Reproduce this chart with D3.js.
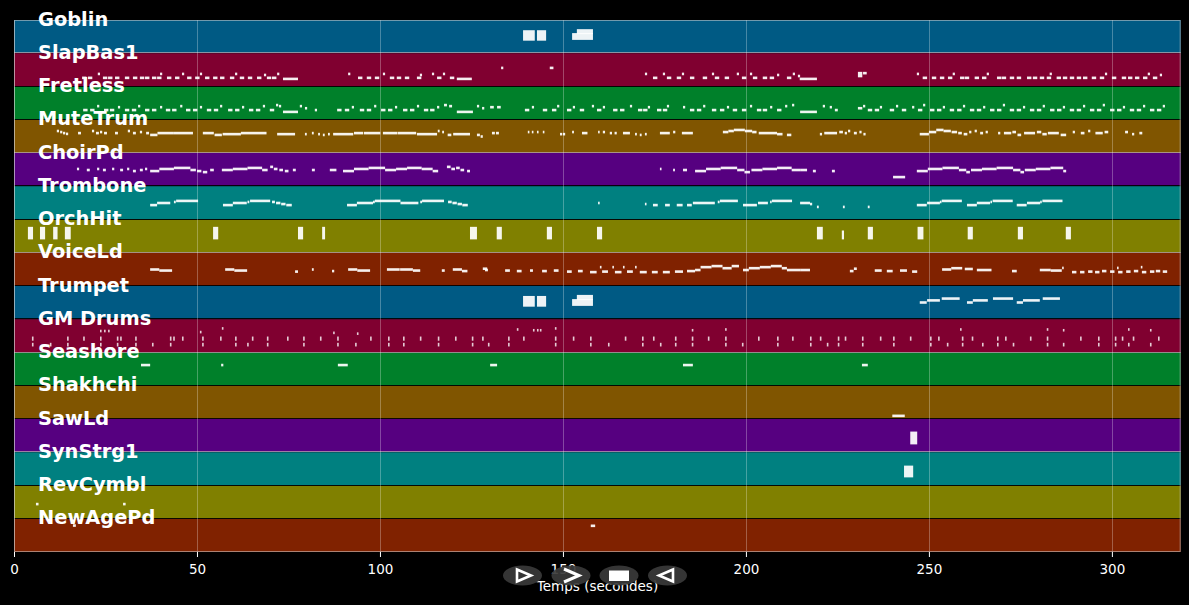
<!DOCTYPE html>
<html><head><meta charset="utf-8">
<script src="https://cdn.jsdelivr.net/npm/d3@7"></script>
<style>body{margin:0;background:#000}svg{display:block}</style>
</head><body><svg id="c" width="1189" height="605"></svg>
<script>
// ---------- data ----------
const tracks = ["Goblin","SlapBas1","Fretless","MuteTrum","ChoirPd","Trombone","OrchHit","VoiceLd",
  "Trumpet","GM Drums","Seashore","Shakhchi","SawLd","SynStrg1","RevCymbl","NewAgePd"];
const bandColors = ["#005a84","#800030","#00802a","#805500","#560080","#008080","#808000","#802200"];
const xTicks = [0,50,100,150,200,250,300];
const xMax = 318.8;
const xTitle = "Temps (secondes)";
// note: [start (s), duration (s), pitch] or [start, duration, lowPitch, highPitch]
const goblin = [[139.1,3.2,53,83],[142.9,2.5,53,83],[153.8,4.4,78,87],[152.5,5.7,56,72]];
const slapBas1 = [[18.6,1.2,33],[20.2,1.2,33],[22.9,0.6,48],[24.3,1.2,33],[25.7,1.2,33],[27.6,1.2,33],[30.3,1.2,33],[32.5,1.2,33],[34.4,1.2,33],[35.8,1.2,33],[37.7,1.2,33],[39.1,1.2,33],[39.9,0.6,48],[41.8,1.2,33],[44.0,1.2,33],[45.9,0.6,48],[47.3,1.2,33],[49.5,1.2,33],[50.8,0.6,48],[52.2,1.2,33],[54.4,1.2,33],[56.3,1.2,33],[59.0,1.2,33],[60.4,0.6,48],[61.7,1.2,33],[63.9,1.2,33],[66.4,1.2,33],[68.3,0.6,44],[69.1,1.2,33],[70.5,1.2,33],[71.9,0.6,48],[73.5,4.1,29],
  [91.3,0.6,48],[94.0,1.2,33],[96.4,1.2,33],[98.6,1.2,33],[100.8,0.6,48],[102.7,1.2,33],[104.6,1.2,33],[106.8,1.2,33],[110.1,1.2,33],[110.9,0.6,44],[114.2,0.6,48],[115.6,1.2,33],[117.2,0.6,48],[119.1,1.2,33],[121.0,4.1,29],
  [133.1,0.6,71],[146.4,1.0,71],
  [172.4,0.6,48],[174.6,1.2,33],[177.3,0.6,48],[178.4,1.2,33],[181.1,1.2,33],[182.5,0.6,48],[184.7,1.2,33],[188.2,1.2,33],[190.7,0.6,48],[191.5,1.2,33],[194.2,1.2,33],[197.5,0.6,48],[198.9,1.2,33],[201.1,0.6,48],[201.9,1.2,33],[204.6,1.2,33],[206.5,1.2,33],[208.5,0.6,44],[211.2,1.2,33],[212.8,0.6,48],[214.2,0.6,40],[214.7,4.7,29],
  [230.6,1.2,40,51],[232.0,1.0,51],
  [246.7,0.6,48],[248.3,1.2,33],[250.8,1.2,33],[253.0,1.2,33],[255.2,1.2,33],[256.5,0.6,48],[258.5,1.2,33],[259.8,1.2,33],[262.5,1.2,33],[264.5,1.2,33],[265.8,0.6,48],[268.6,1.2,33],[269.9,1.2,33],[272.1,1.2,33],[274.0,1.2,33],[276.8,1.2,33],[278.4,1.2,33],[280.3,1.2,33],[282.2,1.2,33],[283.0,0.6,48],[284.9,1.2,33],[286.6,1.2,33],[288.5,1.2,33],[290.4,1.2,33],[292.1,1.2,33],[294.5,1.2,33],[296.7,1.2,33],[298.1,0.6,48],[300.0,1.2,33],[302.7,1.2,33],[304.4,1.2,33],[306.3,1.2,33],[308.5,1.2,33],[309.8,0.6,48],[311.2,1.2,33],[313.1,0.6,44]];
const fretless = [[18.9,1.2,37],[20.8,1.2,37],[22.7,0.6,52],[24.6,1.2,37],[26.2,1.2,37],[28.4,0.6,48],[30.3,1.2,37],[32.2,1.2,37],[33.9,0.6,52],[35.8,1.2,37],[37.7,1.2,37],[39.9,0.6,48],[41.5,1.2,37],[43.2,1.2,37],[45.4,0.6,52],[47.0,1.2,37],[48.9,1.2,37],[50.8,0.6,48],[52.7,1.2,37],[54.6,1.2,37],[56.3,0.6,52],[58.5,1.2,37],[60.4,1.2,37],[62.3,0.6,48],[64.2,1.2,37],[66.1,1.2,37],[68.0,0.6,52],[69.9,1.2,37],[71.6,0.6,56],[72.4,0.6,52],[73.5,4.1,30],[78.1,0.6,52],[79.5,0.6,44],[82.2,0.6,37],
  [88.3,1.2,37],[90.4,1.2,37],[92.3,0.6,48],[94.5,1.2,37],[96.4,1.2,37],[98.4,0.6,52],[100.3,1.2,37],[102.2,1.2,37],[104.1,0.6,48],[106.3,1.2,37],[108.2,1.2,37],[110.1,0.6,52],[112.0,1.2,37],[113.7,1.2,37],[115.6,0.6,48],[117.5,0.8,56],[118.9,0.8,52],[121.0,4.4,30],[126.5,0.6,52],[127.9,0.6,44],[130.1,1.0,48],[132.0,1.0,48],
  [139.6,1.2,37],[141.5,0.6,48],[144.5,1.2,37],[147.0,1.2,37],[148.4,0.6,52],[151.1,1.2,37],[152.7,0.6,48],[154.6,1.2,37],[157.9,0.6,52],[159.3,1.2,37],[160.9,0.6,48],[163.7,1.2,37],[165.6,1.2,37],[168.3,0.6,52],[170.5,1.2,37],[171.9,1.2,37],[173.2,0.6,48],[175.7,1.2,37],[177.3,1.2,37],[178.4,0.6,52],[182.8,0.6,48],[184.7,1.2,37],[186.6,1.2,37],[188.3,0.6,52],[190.7,1.2,37],[192.9,1.2,37],[194.8,0.6,48],[196.4,1.2,37],[198.9,1.2,37],[201.1,0.6,52],[203.0,1.2,37],[204.6,1.2,37],[206.6,0.6,48],[208.5,1.2,37],[210.7,0.6,52],[212.6,0.6,56],
  [214.8,4.6,30],[221.0,0.6,52],[222.9,0.6,48],[224.3,0.8,37],[230.6,1.2,44],[232.0,0.6,52],[233.3,1.2,37],[235.2,1.2,37],[236.6,0.6,48],[239.3,1.2,37],[241.0,0.6,52],[242.6,1.2,37],
  [245.4,0.6,48],[247.0,1.2,37],[248.4,0.6,56],[250.3,1.2,37],[252.2,1.2,37],[253.8,0.6,48],[255.7,1.2,37],[257.7,1.2,37],[259.3,0.6,52],[261.2,1.2,37],[263.1,1.2,37],[264.8,0.6,48],[266.7,1.2,37],[268.6,1.2,37],[270.2,0.6,56],[272.1,1.2,37],[274.0,1.2,37],[275.7,0.6,48],[277.6,1.2,37],[279.5,1.2,37],[281.1,0.6,52],[283.1,1.2,37],[285.0,1.2,37],[286.6,0.6,48],[288.5,1.2,37],[290.4,1.2,37],[292.1,0.6,52],[294.0,1.2,37],[295.9,1.2,37],[297.5,0.6,56],[299.5,1.2,37],[301.4,1.2,37],[303.0,0.6,48],[304.9,1.2,37],[306.8,1.2,37],[308.5,0.6,52],[310.4,1.2,37],[312.3,1.2,37],[313.9,0.6,52]];
const muteTrum = [[11.7,0.6,84],[12.6,0.6,80],[13.4,0.6,76],[14.2,0.6,73],[17.5,0.8,76],[21.3,0.6,84],[22.4,0.8,76],[23.5,0.6,80],[24.6,0.8,76],[27.6,0.8,76],[31.1,0.6,84],[32.5,0.8,76],[34.4,0.6,80],[36.1,0.8,76],
  [37.2,2.0,69],[39.2,4.5,76],[43.7,5.2,76],[51.6,3.0,76],[54.8,2.0,69],[57.0,5.0,72],[62.0,7.0,76],[71.9,4.9,72],
  [79.5,0.5,72],[81.4,0.5,76],[83.1,0.5,72],[84.4,0.5,69],[85.8,0.5,72],[87.2,5.5,72],[92.9,2.5,76],[95.6,4.5,76],[100.8,4.0,76],[104.9,5.0,76],[110.1,5.5,72],[115.8,0.5,84],[117.0,0.5,80],[118.5,1.0,69],[120.0,4.6,72],[126.5,0.8,69],[127.5,0.6,63],[130.6,0.8,76],[131.7,0.8,76],
  [140.4,0.4,80],[141.5,0.4,80],[142.9,0.4,80],[144.5,0.4,80],[149.2,0.6,72],[150.0,0.6,72],[152.5,0.5,80],[155.2,1.5,76],[159.6,0.4,80],[160.9,0.6,80],[162.8,0.6,76],[164.1,0.6,76],[166.4,1.9,76],[169.7,0.5,72],[171.0,0.5,69],[172.4,0.5,72],[176.5,2.7,76],[180.1,0.6,80],[182.5,3.0,76],
  [193.7,1.5,80],[195.2,1.5,84],[196.7,3.0,88],[199.7,2.0,84],[201.7,1.2,80],[203.5,5.0,76],[208.5,1.5,72],[211.2,1.2,69],
  [220.2,0.6,72],[221.4,3.5,76],[225.5,1.0,80],[227.0,0.6,76],[227.9,0.6,84],[229.5,0.8,76],[231.0,0.6,80],[232.1,0.6,72],
  [247.5,2.5,72],[250.0,2.0,80],[252.0,2.0,88],[254.0,2.0,84],[256.2,1.5,80],[258.0,1.0,76],[259.5,1.0,72],[261.0,0.6,80],[262.5,0.6,84],[264.0,0.8,76],[265.5,0.6,80],
  [268.9,0.6,76],[270.5,2.0,76],[272.8,1.0,80],[274.2,1.0,69],[276.0,3.0,76],[279.5,1.2,80],[281.0,1.2,72],[282.5,3.0,76],[286.0,1.5,69],
  [289.3,0.6,80],[291.5,1.0,76],[293.5,0.6,84],[295.5,2.0,76],[298.0,1.0,80],[303.6,0.8,80],[305.5,0.6,72],[307.5,0.8,76]];
const choirPd = [[17.2,0.6,66],[19.9,0.8,62],[22.7,0.6,66],[24.3,0.8,62],[26.8,0.6,66],[29.0,0.8,62],[30.9,0.6,66],[32.5,0.8,58],[34.4,0.8,62],[35.8,0.6,66],
  [37.2,2.5,58],[39.7,4.0,66],[43.7,4.5,70],[48.2,1.5,62],[50.0,1.2,58],[51.6,1.2,54],[53.6,1.0,62],
  [56.8,3.0,62],[59.8,4.0,66],[63.8,4.0,70],[67.8,1.5,62],[70.0,0.8,74],[71.0,1.0,66],[72.5,1.0,62],[74.0,1.0,58],[76.2,0.8,62],[81.4,0.8,62],[86.3,1.8,62],
  [89.9,3.0,58],[92.9,4.0,66],[96.9,4.5,70],[101.4,3.0,62],[104.4,3.0,66],[107.4,4.0,70],[111.4,3.0,66],[114.4,1.5,58],[118.3,1.0,74],[119.5,1.0,66],[120.8,1.0,70],[122.0,1.0,62],[123.8,0.8,58],
  [176.5,0.4,66],[180.1,0.5,62],[182.8,1.1,62],
  [186.1,3.0,58],[189.1,4.0,66],[193.1,4.5,70],[197.6,2.0,62],[199.6,1.5,54],[201.5,3.0,62],[204.5,4.0,66],[208.5,4.0,70],[212.5,2.3,62],[214.8,1.9,62],[218.3,0.8,58],[223.5,0.8,58],
  [240.2,3.3,35],
  [246.7,3.0,58],[249.7,4.0,66],[253.7,4.5,70],[258.2,2.0,62],[260.2,1.0,54],[261.5,3.0,62],[264.5,4.0,66],[268.5,4.5,70],[273.0,2.0,62],[275.0,1.0,54],[276.2,3.0,62],[279.2,4.0,66],[283.2,3.5,70],[286.7,0.8,58]];
const trombone = [[37.2,1.9,55],[39.1,3.6,63],[43.7,0.5,67],[44.3,6.0,71],
  [57.1,2.7,55],[59.8,3.8,63],[63.8,0.5,67],[64.5,5.5,71],[70.5,0.8,67],[71.6,1.2,63],[73.0,1.2,59],[74.4,1.5,55],
  [91.0,2.7,55],[93.7,4.4,63],[98.1,0.5,67],[98.6,7.0,71],[105.6,4.9,63],[111.0,0.5,67],[111.5,6.0,71],[118.6,1.0,67],[119.8,1.2,63],[121.2,1.2,59],[122.5,1.5,55],
  [159.6,0.4,63],[172.4,0.4,59],[174.6,1.3,55],[177.9,1.3,55],[181.1,1.6,55],[183.9,1.3,55],
  [185.5,6.0,63],[192.3,0.5,67],[192.9,4.9,71],[199.2,3.8,55],[203.3,2.7,63],[206.6,0.4,67],[207.1,5.5,71],[214.8,2.7,63],[217.5,0.6,59],[219.4,0.5,48],[226.5,0.5,48],[233.3,0.5,48],
  [246.7,2.7,55],[249.5,3.5,63],[253.0,0.4,67],[253.5,5.5,71],[260.4,2.7,55],[263.1,3.6,63],[266.8,0.4,67],[267.4,5.5,71],[274.0,2.7,55],[276.8,3.6,63],[280.4,0.4,67],[281.0,5.5,71]];
const orchHit = [[3.8,1.4,56,94],[7.1,1.4,56,94],[10.7,1.2,56,94],[13.9,1.6,56,94],[54.4,1.4,56,94],[77.6,1.4,56,94],[84.2,0.8,56,94],
  [124.6,1.9,56,94],[131.9,1.4,56,94],[145.6,1.4,56,94],[159.3,1.4,56,94],[219.4,1.6,56,94],[226.2,0.6,56,80],
  [233.3,1.4,56,94],[246.9,1.6,56,94],[260.6,1.4,56,94],[274.3,1.4,56,94],[287.4,1.4,56,94]];
const voiceLd = [[37.2,2.5,63],[39.7,3.5,59],[57.7,2.5,63],[60.2,3.5,59],[76.8,0.8,55],[81.4,0.5,63],[86.9,0.6,57],
  [91.3,2.5,63],[93.8,3.5,59],[101.9,3.5,63],[105.5,3.5,63],[109.0,2.0,59],[116.9,0.8,59],[119.9,2.5,63],[122.4,1.5,57],[128.1,1.2,66],[128.7,0.8,61],
  [134.2,1.3,59],[137.4,1.3,57],[141.0,0.8,59],[144.3,1.3,57],[147.5,1.3,59],[151.1,1.3,55],[154.1,1.3,57],[157.4,1.8,53],[160.1,0.4,72],[160.7,1.6,55],[163.5,0.4,72],[164.2,1.8,53],[166.4,0.4,72],[167.5,1.6,55],[169.7,0.4,72],[171.0,1.9,53],[174.3,1.6,53],[177.3,1.9,53],[180.6,2.2,55],[183.9,2.2,57],
  [186.1,1.5,61],[187.6,3.0,72],[190.6,3.0,76],[193.6,2.5,68],[196.1,2.0,76],[199.2,1.6,61],[200.8,3.0,68],[203.8,3.0,72],[206.8,3.0,76],[209.8,1.4,68],[211.2,3.6,61],[214.8,2.7,61],
  [228.4,1.0,57],[229.5,0.8,66],[235.2,1.9,59],[238.5,1.6,57],[242.1,1.9,59],[245.4,1.4,55],
  [253.6,2.5,63],[256.1,3.0,68],[259.8,2.2,65],[263.1,4.0,61],[272.7,1.3,57],[280.3,3.0,61],[283.3,3.0,59],[286.4,0.4,69],
  [289.1,1.2,53],[291.3,1.2,53],[293.5,1.2,55],[295.4,1.2,53],[297.3,1.2,57],[299.5,1.2,55],[301.4,0.4,69],[301.7,1.2,53],[303.9,1.2,55],[306.0,1.2,57],[307.9,0.4,72],[308.2,1.2,53],[310.4,1.2,55],[312.0,1.2,57],[313.9,1.2,55]];
const trumpet = [[139.1,3.2,53,84],[142.9,2.5,53,84],[153.8,4.4,78,88],[152.5,5.7,56,72],
  [247.5,1.9,64],[249.5,3.5,72],[253.5,4.9,79],[260.4,1.6,64],[262.0,4.1,72],[267.5,5.5,79],[274.0,1.7,64],[275.7,4.6,72],[281.1,4.7,79]];
// drum hits: short stacked dashes (kick/snare pitches) plus a few high hits
const gmDrums = [[4.9,0.4,28,32],[4.9,0.4,50,56],[9.8,0.4,28,32],[14.5,0.4,28,32],[14.5,0.4,50,56],[18.9,0.4,50,56],[23.5,0.4,28,32],[23.5,0.4,50,56],[28.1,0.4,28,32],[28.1,0.4,50,56],[29.0,0.4,50,56],[33.1,0.4,28,32],[33.1,0.4,50,56],[37.7,0.4,28,32],[42.6,0.4,28,32],[42.6,0.4,50,56],[43.5,0.4,50,56],[45.9,0.4,50,56],[51.4,0.4,28,32],[51.4,0.4,50,56],[56.3,0.4,50,56],[60.4,0.4,28,32],[60.4,0.4,50,56],[63.7,0.4,28,32],[65.0,0.4,50,56],[69.1,0.4,28,32],[69.1,0.4,50,56],[74.6,0.4,50,56],[79.0,0.4,28,32],[79.0,0.4,50,56],[83.6,0.4,50,56],[88.3,0.4,28,32],[88.3,0.4,50,56],[93.2,0.4,28,32],[97.3,0.4,50,56],[102.2,0.4,28,32],[102.2,0.4,50,56],
  [106.3,0.4,28,32],[106.3,0.4,50,56],[110.9,0.4,50,56],[115.8,0.4,28,32],[115.8,0.4,50,56],[120.5,0.4,50,56],[125.1,0.4,28,32],[125.1,0.4,50,56],[127.9,0.4,50,56],[129.5,0.4,28,32],[135.0,0.4,28,32],[135.0,0.4,50,56],[139.1,0.4,50,56],[147.8,0.4,28,32],[147.8,0.4,50,56],[152.7,0.4,50,56],[157.4,0.4,28,32],[157.4,0.4,50,56],[162.3,0.4,28,32],[166.9,0.4,50,56],[171.6,0.4,28,32],[171.6,0.4,50,56],[174.6,0.4,50,56],[176.5,0.4,28,32],[180.6,0.4,28,32],[180.6,0.4,50,56],[185.2,0.4,28,32],[185.2,0.4,50,56],[189.6,0.4,50,56],[194.3,0.4,28,32],[194.3,0.4,50,56],[198.9,0.4,28,32],[203.3,0.4,50,56],[208.5,0.4,28,32],[208.5,0.4,50,56],[212.6,0.4,50,56],
  [217.5,0.4,28,32],[217.5,0.4,50,56],[220.2,0.4,50,56],[222.1,0.4,28,32],[225.1,0.4,28,32],[225.1,0.4,50,56],[227.0,0.4,50,56],[231.7,0.4,28,32],[231.7,0.4,50,56],[236.6,0.4,50,56],[240.2,0.4,28,32],[240.2,0.4,50,56],[244.8,0.4,50,56],[250.3,0.4,28,32],[250.3,0.4,50,56],[252.5,0.4,50,56],[254.9,0.4,28,32],[259.0,0.4,28,32],[259.0,0.4,50,56],[261.7,0.4,50,56],[264.5,0.4,28,32],[268.6,0.4,28,32],[268.6,0.4,50,56],[270.8,0.4,50,56],[272.9,0.4,28,32],[277.6,0.4,50,56],[282.2,0.4,28,32],[282.2,0.4,50,56],[286.6,0.4,28,32],[291.3,0.4,50,56],[296.2,0.4,28,32],[296.2,0.4,50,56],[300.8,0.4,28,32],[300.8,0.4,50,56],[302.7,0.4,50,56],[304.4,0.4,28,32],[305.7,0.4,50,56],[310.4,0.4,28,32],[312.6,0.4,50,56],
  [23.5,0.4,82],[24.6,0.4,82],[25.7,0.4,82],[50.8,0.4,78],[56.8,0.4,92],[87.2,0.4,75],[93.7,0.4,72],[137.4,0.4,88],[141.8,0.4,85],[142.9,0.4,85],[143.7,0.4,85],[147.8,0.4,92],[185.2,0.4,85],[194.3,0.4,88],[258.5,0.4,88],[282.2,0.4,88],[286.6,0.4,85],[304.4,0.4,88],[310.4,0.4,85]];
const seashore = [[34.7,2.5,79],[56.6,0.6,79],[88.5,2.7,79],[130.1,1.9,79],[182.8,2.7,79],[231.7,1.6,79]];
const shakhchi = [[240.0,3.4,12]];
const sawLd = [[244.9,1.9,35,74]];
const synStrg1 = [[243.2,2.5,36,71]];
const revCymbl = [[6.0,0.7,56],[29.8,0.7,56]];
const newAgePd = [[16.1,0.8,101],[157.6,1.2,100]];
const trackNotes = [goblin,slapBas1,fretless,muteTrum,choirPd,trombone,orchHit,voiceLd,
  trumpet,gmDrums,seashore,shakhchi,sawLd,synStrg1,revCymbl,newAgePd];

// ---------- drawing ----------
const svg = d3.select("#c");
svg.append("rect").attr("width",1189).attr("height",605).attr("fill","#000");
const L = 14, R = 1180.7, T = 20, B = 552;
const x = d3.scaleLinear().domain([0, xMax]).range([L, R]);
const yb = d3.scaleBand().domain(tracks).range([T, B]).padding(0);

svg.append("g").selectAll("rect").data(tracks).join("rect")
  .attr("x", L).attr("width", R - L)
  .attr("y", d => yb(d)).attr("height", yb.bandwidth())
  .attr("fill", (d,i) => bandColors[i % bandColors.length]);

// separators between bands
svg.append("g").selectAll("line").data(tracks.slice(1)).join("line")
  .attr("x1", L).attr("x2", R)
  .attr("y1", d => Math.round(yb(d)) - 0.5).attr("y2", d => Math.round(yb(d)) - 0.5)
  .attr("stroke", (d,i) => (i % 3 === 0) ? "#b8a8b0" : "#000")
  .attr("stroke-opacity", (d,i) => (i % 3 === 0) ? 0.75 : 0.9)
  .attr("stroke-width", 1.2);

// vertical grid
svg.append("g").selectAll("line").data(xTicks).join("line")
  .attr("x1", d => Math.round(x(d)) + 0.5).attr("x2", d => Math.round(x(d)) + 0.5)
  .attr("y1", T).attr("y2", B)
  .attr("stroke", "#fff").attr("stroke-opacity", 0.28).attr("stroke-width", 1);

// notes
const gNotes = svg.append("g");
tracks.forEach((name, i) => {
  const top = yb(name), bot = top + yb.bandwidth();
  const py = d3.scaleLinear().domain([0, 127]).range([bot, top]);
  gNotes.append("g").selectAll("rect").data(trackNotes[i]).join("rect")
    .attr("x", d => x(d[0]))
    .attr("width", d => Math.max(1.6, x(d[0] + d[1]) - x(d[0])))
    .attr("y", d => py(d.length > 3 ? d[3] : d[2]) - 1.3)
    .attr("height", d => py(d[2]) - py(d.length > 3 ? d[3] : d[2]) + 2.6)
    .attr("fill", "#fff").attr("fill-opacity", name === "GM Drums" ? 0.8 : 0.93);
});

// frame
svg.append("rect").attr("x", L + 0.5).attr("y", T + 0.5).attr("width", R - L - 1).attr("height", B - T - 1)
  .attr("fill", "none").attr("stroke", "#cfcfcf").attr("stroke-opacity", 0.55).attr("stroke-width", 1);

// track labels
svg.append("g").selectAll("text").data(tracks).join("text")
  .attr("x", 38).attr("y", d => yb(d) + 5.5)
  .attr("fill", "#fff").attr("font-family", "DejaVu Sans").attr("font-weight", "bold")
  .attr("font-size", "19.4px").text(d => d);

// x axis
const ax = svg.append("g").attr("transform", `translate(0,${B})`)
  .call(d3.axisBottom(x).tickValues(xTicks).tickSize(5).tickPadding(7).tickFormat(d3.format("d")));
ax.select(".domain").remove();
ax.selectAll("line").attr("stroke", "#fff").attr("stroke-width", 1);
ax.selectAll("text").attr("fill", "#fff").attr("font-family", "DejaVu Sans").attr("font-size", "13.5px");
svg.append("text").attr("x", 597.5).attr("y", 591).attr("text-anchor", "middle")
  .attr("fill", "#fff").attr("font-family", "DejaVu Sans").attr("font-size", "13.5px").text(xTitle);

// playback buttons overlay
const btns = [522.5, 571, 619, 667.5];
const gb = svg.append("g");
gb.selectAll("ellipse").data(btns).join("ellipse")
  .attr("cx", d => d).attr("cy", 575.5).attr("rx", 19.5).attr("ry", 10)
  .attr("fill", "#3a3a3a").attr("fill-opacity", 0.92);
gb.append("path").attr("d", "M517,569.5 L531,575.5 L517,581.5 Z").attr("fill", "none").attr("stroke", "#fff").attr("stroke-width", 2.6);
gb.append("path").attr("d", "M564,569 L579,575.5 L564,582").attr("fill", "none").attr("stroke", "#fff").attr("stroke-width", 3);
gb.append("rect").attr("x", 609).attr("y", 570.5).attr("width", 20).attr("height", 10.5).attr("fill", "#fff");
gb.append("path").attr("d", "M673,569.5 L659,575.5 L673,581.5 Z").attr("fill", "none").attr("stroke", "#fff").attr("stroke-width", 2.6);
</script></body></html>
